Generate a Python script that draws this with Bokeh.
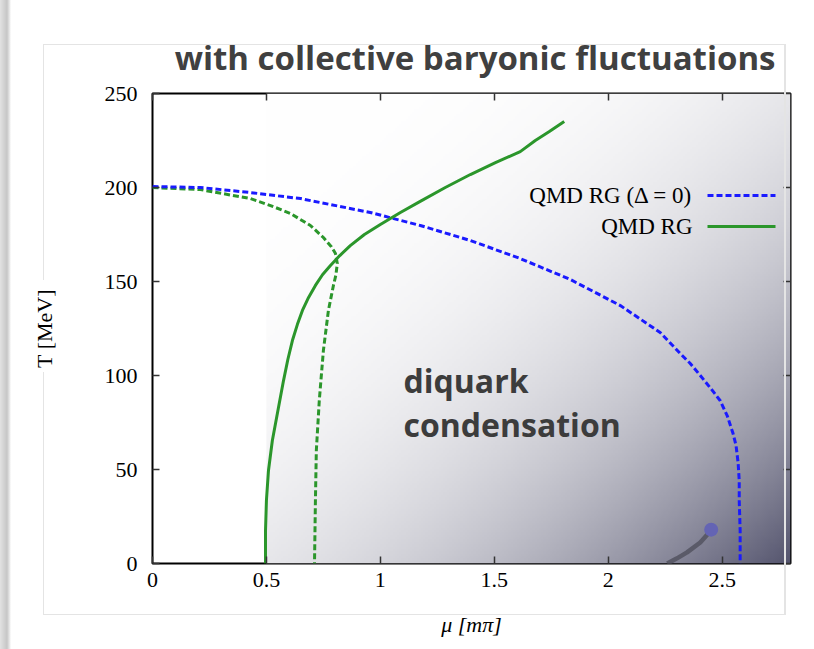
import numpy as np
from bokeh.plotting import figure
from bokeh.models import Range1d, LinearAxis, Label, FixedTicker, InlineStyleSheet
from bokeh.embed import file_html
from bokeh.resources import INLINE

# ---------------- data ----------------
x_ticks = [0, 0.5, 1, 1.5, 2, 2.5]
x_tick_labels = ["0", "0.5", "1", "1.5", "2", "2.5"]
y_ticks = [0, 50, 100, 150, 200, 250]

# QMD RG (Delta = 0): blue dashed
mu_qmd0 = [0.0, 0.21, 0.43, 0.65, 0.956, 1.175, 1.395, 1.614, 1.833, 2.053, 2.228,
           2.316, 2.36, 2.404, 2.447, 2.491, 2.522, 2.548, 2.561, 2.570, 2.575,
           2.575, 2.579, 2.579]
T_qmd0 = [200.5, 200.0, 197.3, 194.1, 186.7, 179.8, 171.8, 162.2, 151.1, 137.2, 122.9,
          111.7, 106.4, 100.0, 93.6, 86.7, 78.7, 69.1, 62.8, 53.7, 44.1,
          33.5, 17.6, 0.0]

# green dashed
mu_gd = [0.0, 0.21, 0.43, 0.518, 0.605, 0.693, 0.75, 0.785, 0.803, 0.811, 0.805,
         0.794, 0.772, 0.75, 0.732, 0.719, 0.715, 0.711]
T_gd = [200.0, 198.9, 194.1, 190.4, 186.2, 179.8, 173.4, 168.5, 164.9, 159.6, 153.5,
        147.9, 134.6, 113.3, 86.7, 60.1, 33.5, 0.0]

# QMD RG: green solid
mu_qmd = [0.496, 0.496, 0.5, 0.509, 0.526, 0.548, 0.575, 0.594, 0.614, 0.636, 0.658,
          0.685, 0.715, 0.746, 0.781, 0.822, 0.868, 0.93, 1.0, 1.088, 1.175, 1.285,
          1.395, 1.505, 1.614, 1.68, 1.74, 1.807]
T_qmd = [0.0, 17.6, 33.5, 49.5, 65.4, 79.8, 97.3, 108.5, 118.6, 127.2, 134.6,
         141.5, 147.9, 153.6, 158.5, 163.8, 169.1, 175.0, 180.3, 186.7, 192.6, 200.0,
         206.9, 213.2, 219.1, 225.0, 229.6, 235.1]

# gray line with end point
mu_gray = [2.259, 2.30, 2.346, 2.404, 2.439]
T_gray = [0.0, 2.6, 5.9, 11.2, 16.0]
mu_pt = [2.452]
T_pt = [18.0]

# shaded (diquark condensation) region extent
shade_mu = [0.5, 2.8]
shade_T = [0.0, 250.0]

# ---------------- figure ----------------
W, H = 814, 649
FL, FR, FT, FB = 152, 24, 93, 86
x0, x1 = 0.0, 2.8
y0, y1 = 0.0, 250.0

p = figure(width=W, height=H, output_backend="svg", toolbar_location=None,
           x_range=Range1d(x0, x1), y_range=Range1d(y0, y1),
           min_border_left=FL, min_border_right=FR, min_border_top=FT,
           min_border_bottom=FB)
p.grid.visible = False
p.background_fill_color = "white"
p.border_fill_color = "white"
p.outline_line_color = "black"
p.outline_line_width = 2

# page decoration (overlay): left shadow strip and faint card outline
line_c = "linear-gradient(#e4e4e4, #e4e4e4)"
layers = [
    ("linear-gradient(to right, #e2e2e2 0px, #c6c6c6 7px, #eeeeee 10px, rgba(255,255,255,0) 11px)",
     "11px 100%", "0px 0px"),
    (line_c, "1px 236px", "43px 44px"),     # left edge (upper part)
    (line_c, "1px 242px", "43px 372px"),    # left edge (lower part)
    (line_c, "742px 1px", "43px 44px"),     # top edge
    (line_c, "2px 571px", "784px 44px"),    # right edge
    (line_c, "742px 1px", "43px 614px"),    # bottom edge
]
css = """
:host { position: relative; }
:host::after {
  content: "";
  position: absolute; left: 0; top: 0; width: %dpx; height: %dpx;
  pointer-events: none;
  background-image: %s;
  background-size: %s;
  background-position: %s;
  background-repeat: no-repeat;
}
""" % (W, H, ", ".join(l[0] for l in layers), ", ".join(l[1] for l in layers),
       ", ".join(l[2] for l in layers))
p.stylesheets = [InlineStyleSheet(css=css)]

# gradient shading
nx, ny = 240, 200
mu_g = np.linspace(shade_mu[0], shade_mu[1], nx)
T_g = np.linspace(shade_T[0], shade_T[1], ny)
MU, TT = np.meshgrid(mu_g, T_g)
u = (MU - shade_mu[0]) / (shade_mu[1] - shade_mu[0])
v = (shade_T[1] - TT) / (shade_T[1] - shade_T[0])
d = (u + v) / 2.0
a = 0.85 * d ** 2.8
dark = np.array([55, 55, 85])
img = np.zeros((ny, nx), dtype=np.uint32)
view = img.view(dtype=np.uint8).reshape((ny, nx, 4))
view[:, :, 0] = (255 * (1 - a) + dark[0] * a).astype(np.uint8)
view[:, :, 1] = (255 * (1 - a) + dark[1] * a).astype(np.uint8)
view[:, :, 2] = (255 * (1 - a) + dark[2] * a).astype(np.uint8)
view[:, :, 3] = 255
p.image_rgba(image=[img], x=shade_mu[0], y=shade_T[0],
             dw=shade_mu[1] - shade_mu[0], dh=shade_T[1] - shade_T[0])

BLUE = "#1a1aff"
GREEN = "#2b962b"

p.line(mu_gd, T_gd, line_color=GREEN, line_width=3, line_dash="6 3")
p.line(mu_qmd0, T_qmd0, line_color=BLUE, line_width=3, line_dash="6 3")
p.line(mu_qmd, T_qmd, line_color=GREEN, line_width=3)
p.line(mu_gray, T_gray, line_color="#5a5a68", line_width=4.5)
p.scatter(mu_pt, T_pt, size=14, fill_color="#6464b4", line_color=None)

# ---------------- axes ----------------
serif = "Liberation Serif"
xb = p.below[0]
yl = p.left[0]
xb.ticker = FixedTicker(ticks=x_ticks)
xb.major_label_overrides = {t: l for t, l in zip(x_ticks, x_tick_labels)}
yl.ticker = FixedTicker(ticks=y_ticks)

top = LinearAxis(ticker=FixedTicker(ticks=x_ticks))
right = LinearAxis(ticker=FixedTicker(ticks=y_ticks))
p.add_layout(top, "above")
p.add_layout(right, "right")

for ax in [xb, yl, top, right]:
    ax.axis_line_color = None
    ax.major_tick_in = 7
    ax.major_tick_out = 0
    ax.major_tick_line_color = "#333333"
    ax.major_tick_line_width = 1.5
    ax.minor_tick_line_color = None
    ax.major_label_text_font = serif
    ax.major_label_text_font_size = "22px"
    ax.major_label_text_color = "black"

for ax in [top, right]:
    ax.major_label_text_color = None
    ax.major_label_text_font_size = "0px"
    ax.major_label_standoff = 0

xb.major_label_standoff = 9
yl.major_label_standoff = 15

yl.axis_label = "T [MeV]"
yl.axis_label_text_font = serif
yl.axis_label_text_font_size = "22px"
yl.axis_label_text_font_style = "normal"
yl.axis_label_text_color = "black"
yl.axis_label_standoff = 45

xb.axis_label = "μ [mπ]"
xb.axis_label_text_font = serif
xb.axis_label_text_font_size = "22px"
xb.axis_label_text_font_style = "italic"
xb.axis_label_text_color = "black"
xb.axis_label_standoff = 22

# title
p.title.text = "with collective baryonic fluctuations"
p.title.align = "right"
p.title.offset = 15
p.title.standoff = 28
p.title.text_font = "Open Sans"
p.title.text_font_size = "33px"
p.title.text_font_style = "bold"
p.title.text_color = "#404040"

# region annotation
p.add_layout(Label(x=251, y=183, x_units="screen", y_units="screen", text="diquark",
                   text_font="Open Sans", text_font_size="32px", text_font_style="bold",
                   text_color="#3c3c3c", text_align="left", text_baseline="alphabetic"))
p.add_layout(Label(x=251, y=139, x_units="screen", y_units="screen", text="condensation",
                   text_font="Open Sans", text_font_size="32px", text_font_style="bold",
                   text_color="#3c3c3c", text_align="left", text_baseline="alphabetic"))

# legend (gnuplot style: text, then sample)
leg_text_x = 540
leg_rows = [368, 337]
leg_labels = ["QMD RG (Δ = 0)", "QMD RG"]
leg_styles = [dict(line_color=BLUE, line_width=3, line_dash="6 3"),
              dict(line_color=GREEN, line_width=3)]
fw = W - FL - FR
fh = H - FT - FB
for yr, lab, sty in zip(leg_rows, leg_labels, leg_styles):
    p.add_layout(Label(x=leg_text_x, y=yr, x_units="screen", y_units="screen", text=lab,
                       text_font=serif, text_font_size="23px", text_color="black",
                       text_align="right", text_baseline="middle"))
    sx = [leg_text_x + 15, leg_text_x + 83]
    xs = [x0 + s / fw * (x1 - x0) for s in sx]
    ys = [y0 + yr / fh * (y1 - y0)] * 2
    p.line(xs, ys, **sty)

open("out.html", "w").write(file_html(p, INLINE))
